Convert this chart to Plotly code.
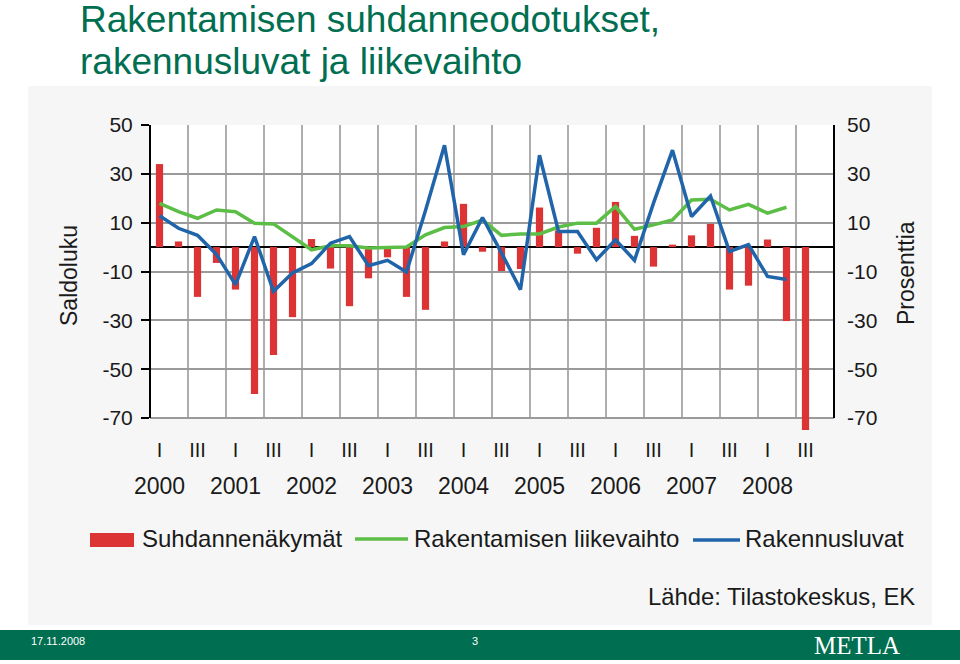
import plotly.graph_objects as go

# ---------------- data ----------------
quarter_index = list(range(35))  # 2000 Q1 ... 2008 Q3
quarter_ticks = list(range(0, 35, 2))
quarter_labels = ["I", "III"] * 9
years = ["2000", "2001", "2002", "2003", "2004", "2005", "2006", "2007", "2008"]
year_positions = list(range(0, 36, 4))

suhdannenakymat = [34.0, 2.3, -20.4, -6.5, -17.4, -60.2, -44.2, -28.7, 3.3, -8.8, -24.2, -12.8,
                   -4.2, -20.4, -25.7, 2.3, 17.7, -1.9, -9.8, -9.0, 16.2, 6.8, -2.7, 7.9,
                   18.5, 4.6, -8.0, 1.0, 4.8, 9.5, -17.4, -15.8, 3.1, -30.3, -74.9]
liikevaihto = [17.9, 14.5, 11.8, 15.2, 14.5, 9.8, 9.5, 4.3, -1.1, 0.5, 0.5, -0.4,
               -0.1, 0.0, 5.0, 8.0, 8.4, 11.1, 4.8, 5.4, 5.4, 8.2, 9.8, 9.8,
               16.6, 7.3, 9.1, 11.1, 19.3, 19.6, 15.2, 17.5, 13.9, 16.3]
rakennusluvat = [12.8, 7.7, 4.8, -3.0, -15.4, 4.3, -18.1, -10.6, -6.8, 1.6, 4.3, -7.6,
                 -5.4, -10.2, 15.0, 41.7, -3.1, 12.1, -2.4, -17.4, 37.6, 6.4, 6.4, -5.2,
                 3.0, -5.4, 18.0, 39.7, 12.5, 20.9, -1.8, 1.0, -12.0, -13.3]
y_ticks = [50, 30, 10, -10, -30, -50, -70]
y_tick_labels = ["50", "30", "10", "-10", "-30", "-50", "-70"]

# ---------------- style ----------------
RED = "#DC3434"
GREEN = "#5CBE46"
BLUE = "#2064AA"
GRID = "#9A9A9A"
DARKGREEN = "#006E50"
FONT = "Liberation Sans, Arial, sans-serif"

W, H = 960, 664
L, R, T = 150, 834, 125
B_AXIS = 418          # pixel row of the -70 line
B = 433               # plot area extended a little so the last bar can hang below -70
Y_TOP, Y_BOT = 50, -70
Y_MIN = Y_BOT - (B - B_AXIS) * (Y_TOP - Y_BOT) / (B_AXIS - T)
X_MIN, X_MAX = -0.5, 35.5


def px(xp, yp):
    return (xp - L) / (R - L), (B - yp) / (B - T)


fig = go.Figure()
fig.add_bar(x=quarter_index, y=suhdannenakymat, width=0.38, marker_color=RED,
            marker_line_width=0, yaxis="y", name="Suhdannenäkymät")
fig.add_scatter(x=quarter_index[:len(liikevaihto)], y=liikevaihto, mode="lines",
                line=dict(color=GREEN, width=3.5), yaxis="y2", name="Rakentamisen liikevaihto")
fig.add_scatter(x=quarter_index[:len(rakennusluvat)], y=rakennusluvat, mode="lines",
                line=dict(color=BLUE, width=3.5), yaxis="y2", name="Rakennusluvat")

shapes = []
# light panel behind the chart image
x0, y0 = px(28, 625)
x1, y1 = px(932, 86)
shapes.append(dict(type="rect", xref="paper", yref="paper", x0=x0, y0=y0, x1=x1, y1=y1,
                   fillcolor="#F6F6F6", line_width=0, layer="below"))
# white plotting frame between -70 and 50
shapes.append(dict(type="rect", xref="x domain", yref="y", x0=0, y0=Y_BOT, x1=1, y1=Y_TOP,
                   fillcolor="white", line_width=0, layer="below"))
# vertical grid lines between half-years
for k in range(17):
    gx = 1.5 + 2 * k
    shapes.append(dict(type="line", xref="x", yref="y", x0=gx, x1=gx, y0=Y_BOT, y1=Y_TOP,
                       line=dict(color=GRID, width=1.6), layer="below"))
# frame: left, right and bottom lines
shapes.append(dict(type="line", xref="x domain", yref="y", x0=0, x1=0, y0=Y_BOT, y1=Y_TOP,
                   line=dict(color="black", width=2)))
shapes.append(dict(type="line", xref="x domain", yref="y", x0=1, x1=1, y0=Y_BOT, y1=Y_TOP,
                   line=dict(color="black", width=2)))
shapes.append(dict(type="line", xref="x domain", yref="y", x0=0, x1=1, y0=Y_BOT, y1=Y_BOT,
                   line=dict(color="#333333", width=2), layer="below"))
# footer bar
x0, y0 = px(0, 660)
x1, y1 = px(960, 630)
shapes.append(dict(type="rect", xref="paper", yref="paper", x0=x0, y0=y0, x1=x1, y1=y1,
                   fillcolor=DARKGREEN, line_width=0, layer="above"))
# legend symbols
x0, y0 = px(90, 547)
x1, y1 = px(134, 533)
shapes.append(dict(type="rect", xref="paper", yref="paper", x0=x0, y0=y0, x1=x1, y1=y1,
                   fillcolor=RED, line_width=0))
x0, y0 = px(355, 539)
x1, _ = px(408, 539)
shapes.append(dict(type="line", xref="paper", yref="paper", x0=x0, y0=y0, x1=x1, y1=y0,
                   line=dict(color=GREEN, width=3.5)))
x0, y0 = px(693, 540)
x1, _ = px(740, 540)
shapes.append(dict(type="line", xref="paper", yref="paper", x0=x0, y0=y0, x1=x1, y1=y0,
                   line=dict(color=BLUE, width=3.5)))

annotations = []


def text(s, xp, yp, size, color="#1A1A1A", xanchor="left", angle=0, family=FONT):
    xx, yy = px(xp, yp)
    annotations.append(dict(text=s, x=xx, y=yy, xref="paper", yref="paper", showarrow=False,
                            xanchor=xanchor, yanchor="middle", textangle=angle,
                            font=dict(family=family, size=size, color=color)))


text("Rakentamisen suhdanneodotukset,", 78, 19, 37, color=DARKGREEN)
text("rakennusluvat ja liikevaihto", 78, 62, 37, color=DARKGREEN)
text("Saldoluku", 69, 276, 23, xanchor="center", angle=-90)
text("Prosenttia", 906, 273, 23, xanchor="center", angle=-90)
text("Suhdannenäkymät", 140, 538.5, 24)
text("Rakentamisen liikevaihto", 412, 538.5, 24)
text("Rakennusluvat", 743, 538.5, 24)
text("Lähde: Tilastokeskus, EK", 646, 596.5, 23.8)
text("17.11.2008", 29, 641, 11, color="white")
text("3", 475, 641, 11, color="white", xanchor="center")
text("METLA", 857, 645, 25, color="white", xanchor="center",
     family="Liberation Serif, Times New Roman, serif")

# year labels under the Q1 ticks
for yr, pos in zip(years, year_positions):
    _, yy = px(0, 486)
    annotations.append(dict(text=yr, x=pos, y=yy, xref="x", yref="paper", showarrow=False,
                            xanchor="center", yanchor="middle",
                            font=dict(family=FONT, size=23, color="#1A1A1A")))

fig.update_layout(
    template="none",
    width=W, height=H,
    margin=dict(l=L, r=W - R, t=T, b=H - B, pad=0, autoexpand=False),
    paper_bgcolor="white",
    plot_bgcolor="rgba(0,0,0,0)",
    showlegend=False,
    font=dict(family=FONT, color="#1A1A1A"),
    shapes=shapes,
    annotations=annotations,
    xaxis=dict(range=[X_MIN, X_MAX], tickmode="array", tickvals=quarter_ticks, ticktext=quarter_labels,
               tickfont=dict(size=20, color="#1A1A1A"), showgrid=False, zeroline=False,
               showline=False, ticks="", ticklabelstandoff=3),
    yaxis=dict(range=[Y_MIN, Y_TOP], tickmode="array", tickvals=y_ticks, ticktext=y_tick_labels,
               tickfont=dict(size=21, color="#1A1A1A"), showgrid=True, gridcolor=GRID, gridwidth=1.6,
               zeroline=True, zerolinecolor="black", zerolinewidth=2, showline=False,
               ticks="outside", ticklen=8, tickwidth=1.5, tickcolor="black", ticklabelstandoff=4),
    yaxis2=dict(range=[Y_MIN, Y_TOP], overlaying="y", side="right", tickmode="array", tickvals=y_ticks,
                ticktext=y_tick_labels, tickfont=dict(size=21, color="#1A1A1A"), showgrid=False,
                zeroline=False, showline=False, ticks="", ticklabelstandoff=12),
)

fig.write_html("out.html", config={"displayModeBar": False},
               post_script="document.body.style.margin='0px';document.body.style.padding='0px';"
                           "document.body.style.overflow='hidden';")
